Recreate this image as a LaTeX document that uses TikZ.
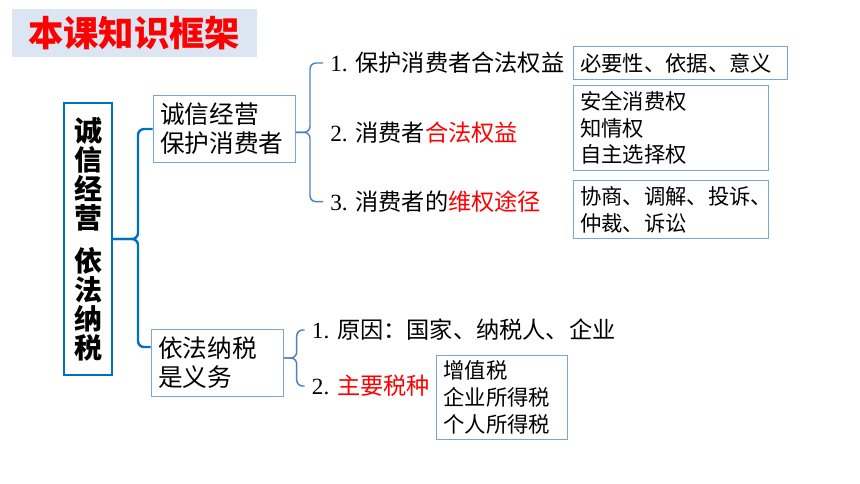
\documentclass[tikz,border=0pt]{standalone}
\usepackage{fontspec}
\setmainfont{Noto Sans CJK SC}
\newfontfamily\numfont{Liberation Serif}
\usetikzlibrary{calc}

\newdimen\pxu
\pxu=0.75pt

\definecolor{titlebg}{RGB}{220,230,242}
\definecolor{mainblue}{RGB}{0,112,192}
\definecolor{boxblue}{RGB}{120,165,215}
\definecolor{braceblue}{RGB}{79,129,189}
\definecolor{keyred}{RGB}{255,0,0}

\tikzset{
        topicbox/.style={draw=boxblue, line width=0.8pt, anchor=north west, inner xsep=7\pxu, inner ysep=0pt, align=left, font=\fontsize{18.5}{21.75}\selectfont},
        infobox/.style={draw=boxblue, line width=0.8pt, anchor=north west, inner xsep=7\pxu, inner ysep=0pt, align=left, font=\fontsize{16}{20}\selectfont},
        itemtext/.style={anchor=west, inner xsep=7\pxu, font=\fontsize{17.4}{20}\selectfont},
        bracket/.style={draw=mainblue, line width=1.8pt, rounded corners=6\pxu},
        subbrace/.style={draw=braceblue, line width=1.1pt, rounded corners=6\pxu}
}

\begin{document}
\begin{tikzpicture}[x=0.75pt, y=-0.75pt]

        \useasboundingbox (0, 0) rectangle (860, 484);

        \fill[titlebg] (11.7, 9.3) rectangle (256.7, 56.7);
        \node[text=keyred, font=\fontsize{26.5}{30}\selectfont\bfseries] (title) at (134, 33) {本课知识框架};

        \node[draw=mainblue, line width=1.5pt, minimum width=48\pxu, minimum height=272\pxu, inner sep=0pt, align=center, font=\fontsize{21}{21.75}\selectfont\bfseries] (main) at (88, 239) {诚\\信\\经\\营\\[10.5pt]依\\法\\纳\\税};

        \node[topicbox, text width=128\pxu, minimum height=67\pxu] (sincere) at (152.7, 95) {诚信经营\\保护消费者};
        \node[topicbox, text width=118\pxu, minimum height=67\pxu] (duty) at (150.7, 329) {依法纳税\\是义务};

        \node[itemtext] (protect) at (323, 63) {{\numfont 1. }保护消费者合法权益};
        \node[itemtext] (rights) at (323, 133) {{\numfont 2. }消费者\textcolor{keyred}{合法权益}};
        \node[itemtext] (remedy) at (323, 201.7) {{\numfont 3. }消费者的\textcolor{keyred}{维权途径}};
        \node[itemtext] (reason) at (304.7, 330) {{\numfont 1. }原因：国家、纳税人、企业};
        \node[itemtext] (taxes) at (304.7, 386) {{\numfont 2. }\textcolor{keyred}{主要税种}};

        \node[infobox, text width=200\pxu, minimum height=33\pxu] (basis) at (572.7, 46) {必要性、依据、意义};
        \node[infobox, text width=181\pxu, minimum height=85\pxu] (kinds) at (572.7, 85) {安全消费权\\知情权\\自主选择权};
        \node[infobox, text width=181\pxu, minimum height=58\pxu] (ways) at (572.7, 180) {协商、调解、投诉、\\仲裁、诉讼};
        \node[infobox, text width=117\pxu, minimum height=84\pxu] (taxkinds) at (436, 355) {增值税\\企业所得税\\个人所得税};

        % braces
        \coordinate (mb) at ($(main.east)+(25, 0)$);
        \draw[bracket] (sincere.west) -| (mb) -- (main.east);
        \draw[bracket] ([yshift=12pt]duty.west) -| (mb) -- (main.east);

        \coordinate (sb) at ($(protect.west)!0.5!(remedy.west)+(-13, 0)$);
        \draw[subbrace] (protect.west) -| (sb) -- (sincere.east |- sb);
        \draw[subbrace] (remedy.west) -| (sb) -- (sincere.east |- sb);

        \coordinate (tb) at ($(reason.west)!0.5!(taxes.west)+(-8, 0)$);
        \draw[subbrace] (reason.west) -| (tb) -- (duty.east |- tb);
        \draw[subbrace] (taxes.west) -| (tb) -- (duty.east |- tb);

\end{tikzpicture}
\end{document}
